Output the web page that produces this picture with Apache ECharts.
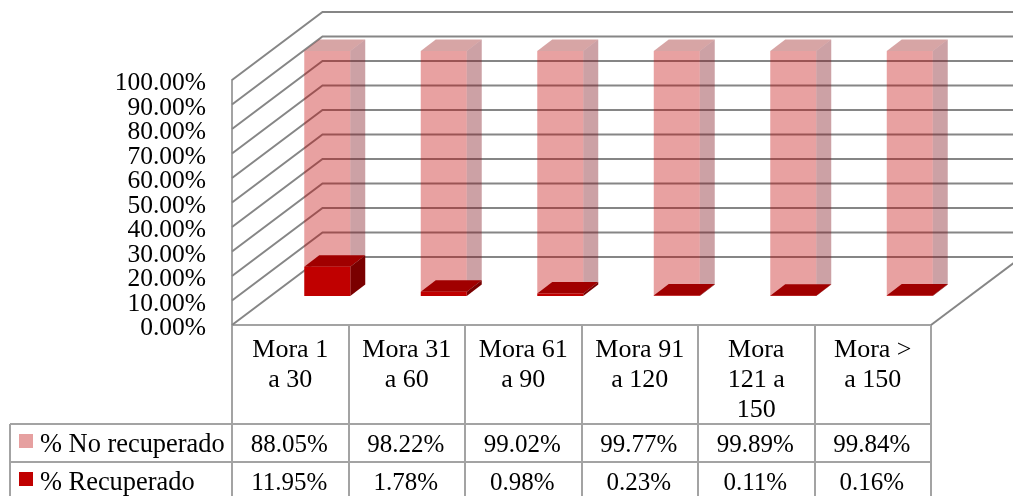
<!DOCTYPE html>
<html>
<head>
<meta charset="utf-8">
<style>html,body{margin:0;padding:0;background:#fff;overflow:hidden}#chart{width:1013px;height:496px}</style>
<script src="https://cdn.jsdelivr.net/npm/echarts@6/dist/echarts.min.js"></script>
</head>
<body>
<div id="chart"></div>
<script>
const categories = ['Mora 1\na 30', 'Mora 31\na 60', 'Mora 61\na 90', 'Mora 91\na 120', 'Mora\n121 a\n150', 'Mora >\na 150'];
const recuperado = [11.95, 1.78, 0.98, 0.23, 0.11, 0.16];
const noRecuperado = [88.05, 98.22, 99.02, 99.77, 99.89, 99.84];
const gridTicks = [0, 10, 20, 30, 40, 50, 60, 70, 80, 90, 100];

const FONT = '"Liberation Serif", serif';
const TEXT_COLOR = '#000';
const GRID_COLOR = '#868686';
const AXIS_COLOR = '#a3a3a3';

// Oblique projection: how far the back wall sits from the front plane.
const DEPTH_X = 90.5, DEPTH_Y = 68;
// Bars stand part way into the floor and have their own small depth.
const BAR_SHIFT_X = 14, BAR_SHIFT_Y = 29, BAR_W = 46, BAR_DX = 15, BAR_DY = 11.5;
// Vertical centres of the two data-table rows, measured below the floor line.
const ROW_NO = 120, ROW_YES = 158;

function poly(points, fill) {
  return { type: 'polygon', shape: { points }, style: { fill } };
}

// Draws one stacked block as front, top and side faces, plus its table cell.
function blockRenderer(values, baseOf, colors, rowOffset) {
  return function (params, api) {
    const i = api.value(0);
    const base = baseOf(i);
    const floor = api.coord([i, 0]);
    const low = api.coord([i, base]);
    const high = api.coord([i, base + values[i]]);
    const x0 = floor[0] + BAR_SHIFT_X, x1 = x0 + BAR_W;
    const y0 = low[1] - BAR_SHIFT_Y, y1 = high[1] - BAR_SHIFT_Y;
    return {
      type: 'group',
      children: [
        poly([[x0, y1], [x1, y1], [x1 + BAR_DX, y1 - BAR_DY], [x0 + BAR_DX, y1 - BAR_DY]], colors.top),
        poly([[x1, y0], [x1 + BAR_DX, y0 - BAR_DY], [x1 + BAR_DX, y1 - BAR_DY], [x1, y1]], colors.side),
        poly([[x0, y0], [x1, y0], [x1, y1], [x0, y1]], colors.front),
        {
          type: 'text',
          style: {
            text: values[i].toFixed(2) + '%',
            x: floor[0] - 1, y: floor[1] + rowOffset,
            align: 'center', verticalAlign: 'middle',
            font: '25px ' + FONT, fill: TEXT_COLOR
          }
        }
      ]
    };
  };
}

// Floor edge, side-wall diagonal, back-wall line and scale label for each value tick.
// The labels sit closer together than their line height, so they are drawn here
// rather than by the axis, which would drop the ones it considers overlapping.
function wallRenderer(params, api) {
  const v = api.value(1);
  const cs = params.coordSys;
  const left = cs.x, right = cs.x + cs.width;
  const y = api.coord([0, v])[1];
  const children = [{
    type: 'polyline',
    shape: { points: [[left, y], [left + DEPTH_X, y - DEPTH_Y], [right + DEPTH_X, y - DEPTH_Y]] },
    style: { stroke: GRID_COLOR, lineWidth: 2, fill: null }
  }, {
    type: 'text',
    style: {
      text: v.toFixed(2) + '%',
      x: left - 26, y: y + 3.5,
      align: 'right', verticalAlign: 'middle',
      font: '25.5px ' + FONT, fill: TEXT_COLOR
    }
  }];
  if (v === 0) {
    children.push({
      type: 'line',
      shape: { x1: right, y1: y, x2: right + DEPTH_X, y2: y - DEPTH_Y },
      style: { stroke: GRID_COLOR, lineWidth: 2 }
    });
  }
  return { type: 'group', children };
}

function legendRow(top, name, color) {
  return {
    orient: 'horizontal', left: 14, top,
    itemWidth: 14, itemHeight: 14, itemGap: 0, selectedMode: false,
    icon: 'rect',
    formatter: '{t|{name}}',
    textStyle: {
      padding: [0, 0, 0, 2],
      rich: { t: { fontFamily: FONT, fontSize: 26.4, color: TEXT_COLOR, padding: [8, 0, 0, 0] } }
    },
    data: [{ name, itemStyle: { color } }]
  };
}

const chart = echarts.init(document.getElementById('chart'), null, { renderer: 'canvas' });
chart.setOption({
  animation: false,
  backgroundColor: '#fff',
  grid: { left: 232, right: 82, top: 80, bottom: 171, containLabel: false },
  xAxis: {
    type: 'category',
    data: categories,
    boundaryGap: true,
    axisLine: { show: true, lineStyle: { color: AXIS_COLOR, width: 2 } },
    axisTick: { show: true, length: 172, lineStyle: { color: AXIS_COLOR, width: 2 } },
    axisLabel: {
      interval: 0, margin: 10, color: TEXT_COLOR,
      fontFamily: FONT, fontSize: 26, lineHeight: 30, verticalAlign: 'top'
    },
    splitLine: { show: false }
  },
  yAxis: {
    type: 'value',
    min: 0, max: 100, interval: 10,
    axisLine: { show: true, lineStyle: { color: AXIS_COLOR, width: 2 } },
    axisTick: { show: false },
    axisLabel: { show: false },
    splitLine: { show: false }
  },
  legend: [
    legendRow(427, '% No recuperado', '#e6a0a0'),
    legendRow(465, '% Recuperado', '#c00000')
  ],
  graphic: [
    { type: 'line', shape: { x1: 10, y1: 424, x2: 931, y2: 424 }, style: { stroke: AXIS_COLOR, lineWidth: 2 } },
    { type: 'line', shape: { x1: 10, y1: 462, x2: 931, y2: 462 }, style: { stroke: AXIS_COLOR, lineWidth: 2 } },
    { type: 'line', shape: { x1: 10, y1: 424, x2: 10, y2: 496 }, style: { stroke: AXIS_COLOR, lineWidth: 2 } }
  ],
  series: [
    {
      name: 'walls', type: 'custom', coordinateSystem: 'cartesian2d', silent: true, clip: false, z: 1,
      renderItem: wallRenderer,
      data: gridTicks.map(v => [0, v])
    },
    {
      name: '% No recuperado', type: 'custom', coordinateSystem: 'cartesian2d', silent: true, clip: false, z: 2,
      itemStyle: { color: '#e6a0a0' },
      renderItem: blockRenderer(noRecuperado, i => recuperado[i], {
        front: 'rgba(192,0,0,0.37)', top: 'rgba(160,40,40,0.42)', side: 'rgba(127,20,30,0.40)'
      }, ROW_NO),
      data: noRecuperado.map((v, i) => [i, v])
    },
    {
      name: '% Recuperado', type: 'custom', coordinateSystem: 'cartesian2d', silent: true, clip: false, z: 3,
      itemStyle: { color: '#c00000' },
      renderItem: blockRenderer(recuperado, () => 0, {
        front: '#c00000', top: '#a00000', side: '#7a0000'
      }, ROW_YES),
      data: recuperado.map((v, i) => [i, v])
    }
  ]
});
</script>
</body>
</html>
